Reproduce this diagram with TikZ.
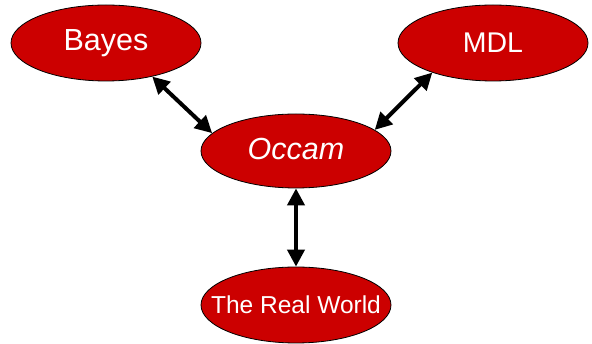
\documentclass[tikz,border=0pt]{standalone}
\usepackage{fontspec}
\setmainfont{Liberation Sans}
\usetikzlibrary{shapes.geometric,arrows.meta}
\definecolor{nodered}{HTML}{CC0000}
\tikzset{
  blob/.style={ellipse, draw=black, line width=0.8pt, fill=nodered, text=white,
    minimum width=190pt, minimum height=76pt, inner xsep=-60pt, inner ysep=-20pt},
  link/.style={line width=4pt, {Triangle[length=17pt,width=17pt]}-{Triangle[length=17pt,width=17pt]}}
}
\begin{document}
\begin{tikzpicture}[x=1pt,y=-1pt]
\useasboundingbox (0,0) rectangle (592,344);
\node[blob, font=\fontsize{30.5}{34}\selectfont] (bayes) at (106,43) {Bayes};
\node[blob, font=\fontsize{28.5}{32}\selectfont] (mdl) at (493,43) {MDL};
\node[blob, minimum height=74pt, font=\fontsize{30.5}{34}\itshape\selectfont] (occam) at (296,151) {\raisebox{4pt}{Occam}};
\node[blob, font=\fontsize{24.5}{28}\selectfont] (world) at (296,305) {The Real World};
\draw[link] (bayes.-36) -- (occam.168);
\draw[link] (mdl.-154) -- (occam.15);
\draw[link] (occam.south) -- (world.north);
\end{tikzpicture}
\end{document}
